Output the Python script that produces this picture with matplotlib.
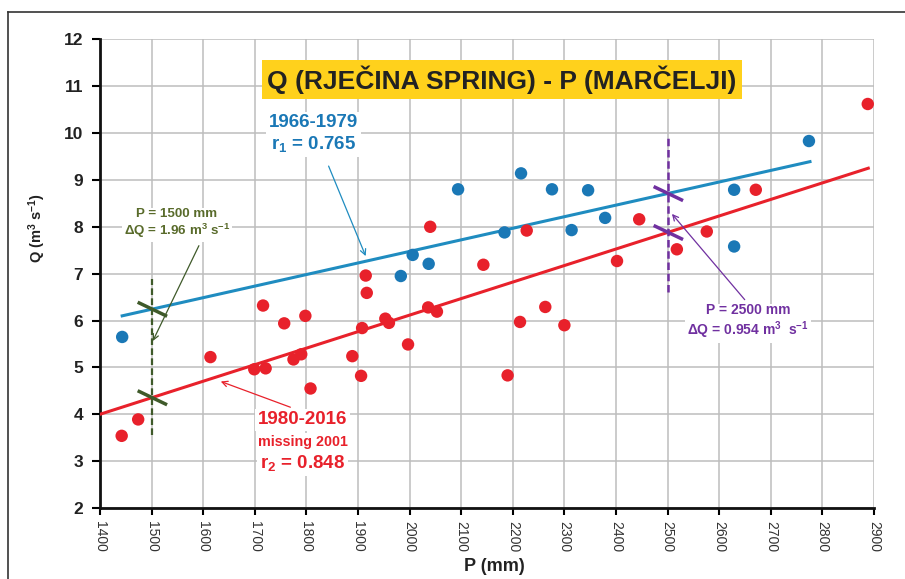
import numpy as np
import matplotlib
matplotlib.use('Agg')
import matplotlib.pyplot as plt
from matplotlib.lines import Line2D

plt.rcParams['font.family'] = ['Liberation Sans', 'DejaVu Sans']
plt.rcParams['mathtext.fontset'] = 'custom'
plt.rcParams['mathtext.rm'] = 'Liberation Sans:bold'
plt.rcParams['mathtext.it'] = 'Liberation Sans:bold'
plt.rcParams['mathtext.bf'] = 'Liberation Sans:bold'

# 1966-1979 (blue)
p_blue = [1443, 1983, 2006, 2037, 2094, 2184, 2216, 2276, 2314, 2346, 2379, 2629, 2629, 2774]
q_blue = [5.65, 6.95, 7.40, 7.21, 8.80, 7.88, 9.14, 8.80, 7.93, 8.78, 8.19, 8.79, 7.58, 9.83]

# 1980-2016, missing 2001 (red)
p_red = [1442, 1474, 1614, 1699, 1721, 1716, 1757, 1775, 1790, 1798, 1808, 1889,
         1906, 1908, 1915, 1917, 1953, 1960, 1997, 2036, 2040, 2053, 2143, 2190,
         2214, 2227, 2263, 2300, 2402, 2445, 2518, 2576, 2671, 2888]
q_red = [3.54, 3.89, 5.22, 4.96, 4.98, 6.32, 5.94, 5.17, 5.28, 6.10, 4.55, 5.24,
         4.82, 5.84, 6.96, 6.59, 6.04, 5.95, 5.49, 6.28, 8.00, 6.19, 7.19, 4.83,
         5.97, 7.92, 6.29, 5.90, 7.27, 8.16, 7.52, 7.90, 8.79, 10.62]

# regression lines (end points)
blue_fit_p = [1443, 2776]
blue_fit_q = [6.10, 9.39]
red_fit_p = [1400, 2889]
red_fit_q = [4.00, 9.25]

x_ticks = list(range(1400, 3000, 100))
y_ticks = list(range(2, 13))

c_blue = '#1a78b6'
c_blue_line = '#1f8cc0'
c_red = '#e8212b'
c_green = '#3f5a2a'
c_green_txt = '#596b2b'
c_purple = '#7030a0'

fig = plt.figure(figsize=(9.05, 5.79), dpi=100)
ax = fig.add_axes([0.1105, 0.1226, 0.8552, 0.8095])

ax.set_xlim(1400, 2900)
ax.set_ylim(2, 12)
ax.set_xticks(x_ticks)
ax.set_yticks(y_ticks)
ax.grid(True, color='#bdbdbd', lw=1.1, zorder=0)
ax.set_axisbelow(True)

for s in ['top', 'right']:
    ax.spines[s].set_visible(False)
for s in ['left', 'bottom']:
    ax.spines[s].set_linewidth(2)
    ax.spines[s].set_color('#111111')
ax.tick_params(axis='y', direction='out', length=6, width=1.5, labelsize=12.5, pad=6)
ax.tick_params(axis='x', direction='out', length=5, width=1.5, labelsize=10,
               labelrotation=-90, labelcolor='#333333', pad=4)
for lab in ax.get_yticklabels():
    lab.set_fontweight('bold')
    lab.set_color('#222222')

ax.set_ylabel('Q (m$^3$ s$^{-1}$)', fontsize=10.5, fontweight='bold', color='#222222')
ax.yaxis.set_label_coords(-0.067, 0.597)
ax.set_xlabel('P (mm)', fontsize=13, fontweight='bold', color='#222222')
ax.xaxis.set_label_coords(0.51, -0.107)

# regression lines
ax.plot(blue_fit_p, blue_fit_q, color=c_blue_line, lw=2.2, zorder=3)
ax.plot(red_fit_p, red_fit_q, color=c_red, lw=2.2, zorder=3)

# points
ax.scatter(p_blue, q_blue, s=80, color=c_blue, edgecolors='none', zorder=4)
ax.scatter(p_red, q_red, s=80, color=c_red, edgecolors='none', zorder=4)

# difference markers at P = 1500 and P = 2500
ax.plot([1500, 1500], [3.56, 6.88], color=c_green, lw=1.6, ls=(0, (3, 1.5)), zorder=3)
ax.plot([2500, 2500], [6.60, 9.96], color=c_purple, lw=1.8, ls=(0, (3, 1.5)), zorder=3)
for p0, col in [(1500, c_green), (2500, c_purple)]:
    for fp, fq in [(blue_fit_p, blue_fit_q), (red_fit_p, red_fit_q)]:
        q0 = np.interp(p0, fp, fq)
        ax.plot([p0 - 27, p0 + 30], [q0 + 0.15, q0 - 0.15], color=col, lw=2.5,
                zorder=5, solid_capstyle='butt')

# title box
ax.text(2179, 11.14, 'Q (RJEČINA SPRING) - P (MARČELJI)', fontsize=19, fontweight='bold',
        color='#222222', ha='center', va='center', zorder=6,
        bbox=dict(boxstyle='square,pad=0.2', fc='#ffd11c', ec='none'))

white = dict(boxstyle='square,pad=0.15', fc='white', ec='none')

# blue annotation
ax.text(1813, 9.98, '1966-1979\nr$_1$ = 0.765', fontsize=13.5, fontweight='bold',
        color=c_blue, ha='center', va='center', linespacing=1.25, zorder=6, bbox=white)
ax.annotate('', xy=(1917, 7.32), xytext=(1841, 9.35), zorder=6,
            arrowprops=dict(arrowstyle='->', color=c_blue_line, lw=0.9))

# red annotation
ax.text(1793, 3.88, '1980-2016', fontsize=13.5, fontweight='bold', color=c_red,
        ha='center', va='center', zorder=6, bbox=white)
ax.text(1793, 3.40, 'missing 2001', fontsize=10.3, fontweight='bold', color=c_red,
        ha='center', va='center', zorder=6, bbox=white)
ax.text(1793, 2.96, 'r$_2$ = 0.848', fontsize=13.5, fontweight='bold', color=c_red,
        ha='center', va='center', zorder=6, bbox=white)
ax.annotate('', xy=(1629, 4.72), xytext=(1774, 4.13), zorder=6,
            arrowprops=dict(arrowstyle='->', color=c_red, lw=0.9))

# green annotation
ax.text(1549, 8.06, 'P = 1500 mm\nΔQ = 1.96 m$^3$ s$^{-1}$', fontsize=9.6, fontweight='bold',
        color=c_green_txt, ha='center', va='center', linespacing=1.15, zorder=6, bbox=white)
ax.annotate('', xy=(1500, 5.51), xytext=(1594, 7.65), zorder=6,
            arrowprops=dict(arrowstyle='->', color=c_green, lw=0.9))

# purple annotation
ax.text(2656, 5.96, 'P = 2500 mm\nΔQ = 0.954 m$^3$  s$^{-1}$', fontsize=10, fontweight='bold',
        color=c_purple, ha='center', va='center', linespacing=1.15, zorder=6, bbox=white)
ax.annotate('', xy=(2505, 8.32), xytext=(2653, 6.40), zorder=6,
            arrowprops=dict(arrowstyle='->', color=c_purple, lw=0.9))

# outer frame (left and top edges)
fig.add_artist(Line2D([8 / 905, 8 / 905], [0, 1 - 12 / 579], color='#333333', lw=1.2))
fig.add_artist(Line2D([8 / 905, 1], [1 - 12 / 579, 1 - 12 / 579], color='#333333', lw=1.2))

fig.savefig('out.png', dpi=100)
